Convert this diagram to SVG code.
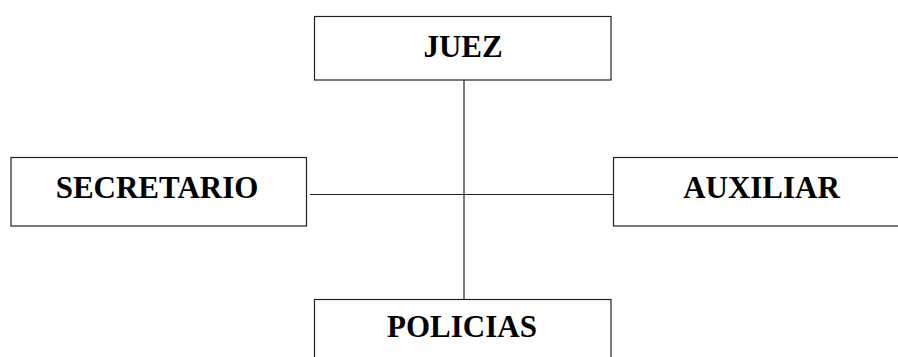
<svg xmlns="http://www.w3.org/2000/svg" width="898" height="357" viewBox="0 0 898 357">
<style>
.box{fill:#fff;stroke:#222;stroke-width:1.2}
.lbl{font-family:"Liberation Serif","Times New Roman",serif;font-weight:bold;font-size:31px;fill:#000}
.con{stroke:#222;stroke-width:1.2;fill:none}
</style>
<rect width="898" height="357" fill="#fff"/>
<g id="connectors">
<line class="con" x1="464" y1="80" x2="464" y2="299"/>
<line class="con" x1="310" y1="194.5" x2="613.5" y2="194.5"/>
</g>
<g id="juez">
<rect class="box" x="314.5" y="16.5" width="296.5" height="63.5"/>
<text class="lbl" x="463" y="57" text-anchor="middle">JUEZ</text>
</g>
<g id="secretario">
<rect class="box" x="11" y="157.5" width="295.5" height="68.5"/>
<text class="lbl" x="157" y="198" text-anchor="middle">SECRETARIO</text>
</g>
<g id="auxiliar">
<rect class="box" x="613.5" y="157.5" width="300" height="68.5"/>
<text class="lbl" x="761.5" y="198" text-anchor="middle">AUXILIAR</text>
</g>
<g id="policias">
<rect class="box" x="314.5" y="299.5" width="296.5" height="80"/>
<text class="lbl" x="462" y="337" text-anchor="middle">POLICIAS</text>
</g>
</svg>
